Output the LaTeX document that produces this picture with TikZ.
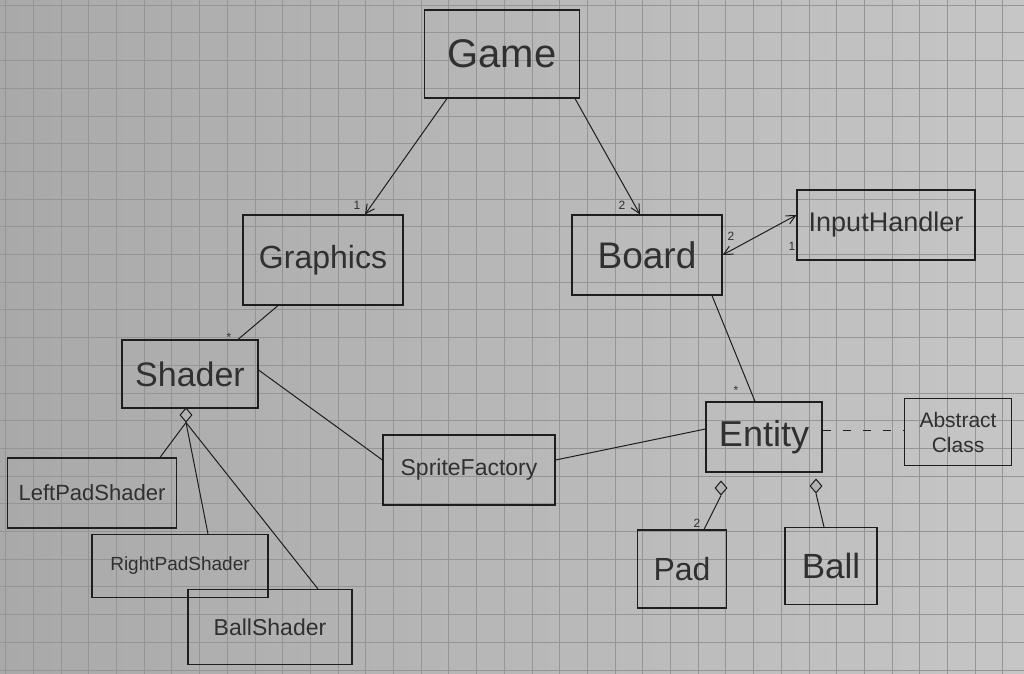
\documentclass[tikz,border=0pt]{standalone}
\usepackage{fontspec}
\setmainfont{Liberation Sans}
\usetikzlibrary{arrows.meta,shapes.geometric}
\definecolor{paperL}{HTML}{A9A9A9}
\definecolor{paperR}{HTML}{C6C6C6}
\definecolor{gridc}{HTML}{959595}
\definecolor{ink}{HTML}{1E1E1E}
\definecolor{pen}{HTML}{303030}
\tikzset{
  cls/.style={draw=ink, line width=1.1pt, text=pen, inner sep=0pt, align=center},
  conn/.style={draw=ink, line width=1pt},
  arr/.style={conn, -{Straight Barb[length=9pt,width=9pt]}},
  biarr/.style={conn, {Straight Barb[length=9pt,width=9pt]}-{Straight Barb[length=9pt,width=9pt]}},
  agg/.style={diamond, draw=ink, line width=1pt, fill=paperR!90!black, minimum width=12pt, minimum height=14pt, inner sep=0pt},
  mult/.style={text=pen, font=\fontsize{12}{12}\selectfont, inner sep=0pt},
}
\begin{document}
\begin{tikzpicture}[x=1pt,y=-1pt]
\useasboundingbox (0,0) rectangle (1024,673);
\shade[left color=paperL, right color=paperR] (0,0) rectangle (1024,673);
\draw[gridc, line width=0.5pt, step=27.7pt, shift={(5.5,5)}] (-5.5,-5) grid (1030,680);

% classes
\node[cls, minimum width=155pt, minimum height=88pt, font=\fontsize{40}{40}\selectfont] (game) at (502,54) {Game};
\node[cls, minimum width=160pt, minimum height=90pt, font=\fontsize{32}{32}\selectfont] (graphics) at (323,260) {Graphics};
\node[cls, minimum width=150pt, minimum height=80pt, font=\fontsize{37}{37}\selectfont] (board) at (647,255) {Board};
\node[cls, minimum width=178pt, minimum height=70pt, font=\fontsize{27}{27}\selectfont] (input) at (886,225) {InputHandler};
\node[cls, minimum width=136pt, minimum height=68pt, font=\fontsize{34}{34}\selectfont] (shader) at (190,374) {Shader};
\node[cls, minimum width=169pt, minimum height=70pt, font=\fontsize{22}{22}\selectfont] (left) at (92,493) {LeftPadShader};
\node[cls, minimum width=176pt, minimum height=63pt, font=\fontsize{19}{19}\selectfont] (right) at (180,566) {RightPadShader};
\node[cls, minimum width=164pt, minimum height=75pt, font=\fontsize{23}{23}\selectfont] (ballsh) at (270,627) {BallShader};
\node[cls, minimum width=172pt, minimum height=70pt, font=\fontsize{23}{23}\selectfont] (sprite) at (469,470) {SpriteFactory};
\node[cls, minimum width=116pt, minimum height=70pt, font=\fontsize{36}{36}\selectfont] (entity) at (764,437) {Entity};
\node[cls, minimum width=107pt, minimum height=67pt, font=\fontsize{21}{25}\selectfont] (abstract) at (958,432) {Abstract\\Class};
\node[cls, minimum width=89pt, minimum height=78pt, font=\fontsize{32}{32}\selectfont] (pad) at (682,569) {Pad};
\node[cls, minimum width=92pt, minimum height=77pt, font=\fontsize{35}{35}\selectfont] (ball) at (831,566) {Ball};

% aggregation diamonds
\node[agg] (sd) at (186,415) {};
\node[agg] (ed1) at (721,488) {};
\node[agg] (ed2) at (816,486) {};

% connectors
\draw[arr] ([xshift=-55pt]game.south) -- ([xshift=42pt]graphics.north);
\draw[arr] ([xshift=73pt]game.south) -- ([xshift=-7pt]board.north);
\draw[biarr] (board.east) -- ([yshift=10pt]input.west);
\draw[conn] ([xshift=-45pt]graphics.south) -- ([xshift=48pt]shader.north);
\draw[conn] ([yshift=4pt]shader.east) -- ([yshift=10pt]sprite.west);
\draw[conn] ([yshift=10pt]sprite.east) -- ([yshift=8pt]entity.west);
\draw[conn] ([xshift=65pt]board.south) -- ([xshift=-9pt]entity.north);
\draw[conn, dashed, dash pattern=on 8pt off 12pt] ([yshift=7pt]entity.east) -- ([yshift=2pt]abstract.west);
\draw[conn] (sd.south) -- ([xshift=68pt]left.north);
\draw[conn] (sd.south) -- ([xshift=28pt]right.north);
\draw[conn] (sd.south) -- ([xshift=48pt]ballsh.north);
\draw[conn] (ed1.south) -- ([xshift=22pt]pad.north);
\draw[conn] (ed2.south) -- ([xshift=-7pt]ball.north);

% multiplicities
\node[mult] (m1) at (357,205) {1};
\node[mult] (m2) at (622,205) {2};
\node[mult] (m3) at (731,236) {2};
\node[mult] (m4) at (792,246) {1};
\node[mult] (m5) at (229,337) {*};
\node[mult] (m6) at (736,390) {*};
\node[mult] (m7) at (697,523) {2};
\end{tikzpicture}
\end{document}
